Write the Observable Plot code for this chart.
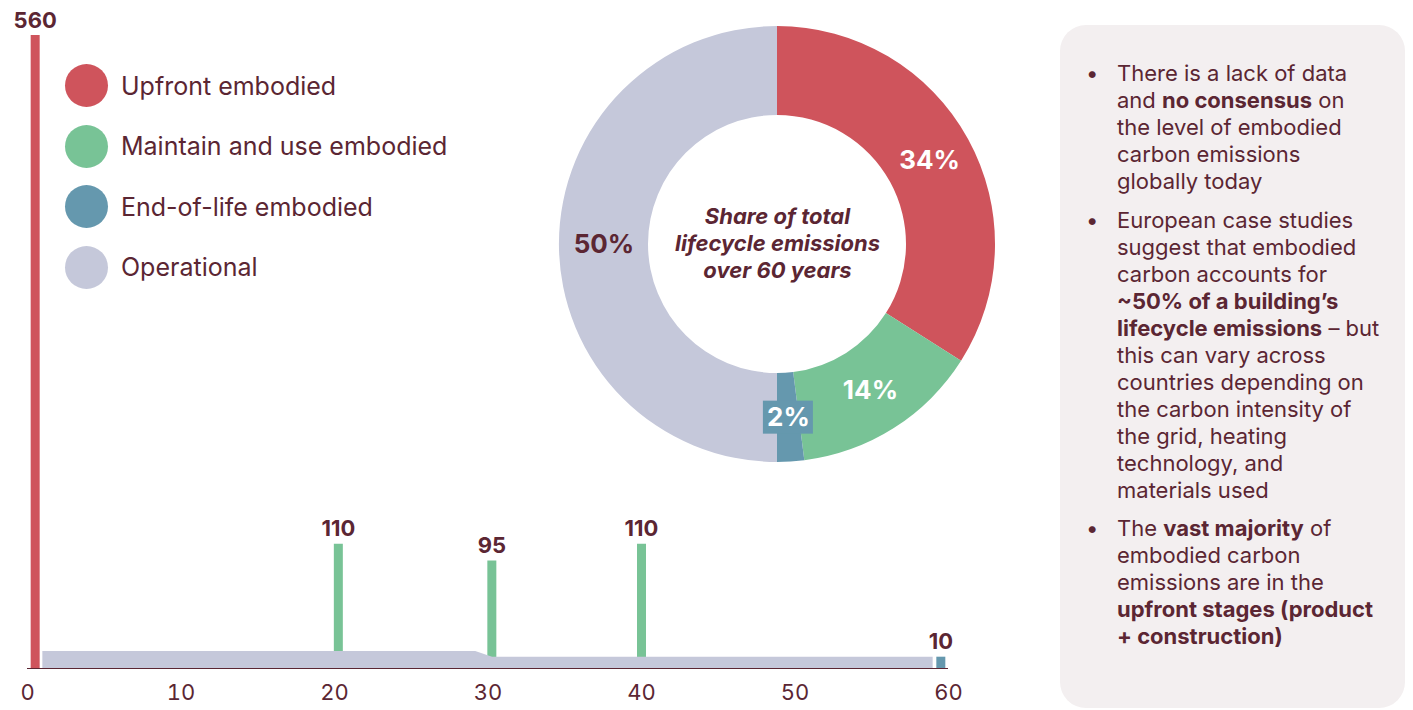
<!DOCTYPE html>
<html>
<head>
<meta charset="utf-8">
<script src="https://cdn.jsdelivr.net/npm/d3@7"></script>
<script src="https://cdn.jsdelivr.net/npm/@observablehq/plot@0.6"></script>
<style>
  html, body { margin: 0; padding: 0; background: #ffffff; }
  #root { position: relative; width: 1413px; height: 710px; overflow: hidden; font-family: Inter, "Noto Sans", sans-serif; color: #5b2633; }
  #bars { position: absolute; left: 0; top: 0; }
  #donut { position: absolute; left: 557px; top: 24px; }
  .legend { position: absolute; left: 65px; top: 64px; }
  .legend .item { display: flex; align-items: center; height: 43px; margin-bottom: 17.5px; font-size: 25px; }
  .legend .sw { width: 43px; height: 43px; border-radius: 50%; margin-right: 13px; flex: none; }
  .box { position: absolute; left: 1060px; top: 25px; width: 345px; height: 683px; background: #f3eff0; border-radius: 26px; }
  .box ul { list-style: none; margin: 0; padding: 35px 0 0 0; }
  .box li { position: relative; padding-left: 57px; font-size: 22px; line-height: 27px; margin-bottom: 11.5px; white-space: nowrap; }
  .box li::before { content: "•"; position: absolute; left: 26px; top: 0; }
  .box b { font-weight: 700; }
</style>
</head>
<body>
<div id="root">
  <div id="bars"></div>
  <div id="donut"></div>
  <div class="legend" id="legend"></div>
  <div class="box">
    <ul>
      <li>There is a lack of data<br>and <b>no consensus</b> on<br>the level of embodied<br>carbon emissions<br>globally today</li>
      <li>European case studies<br>suggest that embodied<br>carbon accounts for<br><b>~50% of a building’s<br>lifecycle emissions</b> – but<br>this can vary across<br>countries depending on<br>the carbon intensity of<br>the grid, heating<br>technology, and<br>materials used</li>
      <li>The <b>vast majority</b> of<br>embodied carbon<br>emissions are in the<br><b>upfront stages (product<br>+ construction)</b></li>
    </ul>
  </div>
</div>
<script>
// ---------- data ----------
const categories = ["Upfront embodied", "Maintain and use embodied", "End-of-life embodied", "Operational"];
const categoryColors = ["#cf545c", "#78c396", "#6598ae", "#c5c8da"];

// embodied emission spikes (year, value, category)
const spikeYears = [0.5, 20.25, 30.25, 40, 59.5];
const spikeValues = [560, 110, 95, 110, 10];
const spikeCategories = ["Upfront embodied", "Maintain and use embodied", "Maintain and use embodied", "Maintain and use embodied", "End-of-life embodied"];

// operational emissions profile (year, value)
const opYears = [1, 29.2, 30.3, 59];
const opValues = [15, 15, 10, 10];

// x axis ticks
const xTicks = [0, 10, 20, 30, 40, 50, 60];

// share of lifecycle emissions (%)
const shareValues = [34, 14, 2, 50];
const shareLabels = ["34%", "14%", "2%", "50%"];
const shareTitle = "Share of total\nlifecycle emissions\nover 60 years";

const maroon = "#5b2633";

// ---------- bar/area chart ----------
const spikes = spikeYears.map((x, i) => ({x, value: spikeValues[i], category: spikeCategories[i]}));
const operational = opYears.map((x, i) => ({x, value: opValues[i], category: "Operational"}));

const chart = Plot.plot({
  width: 1000,
  height: 710,
  marginLeft: 27,
  marginRight: 52,
  marginTop: 35,
  marginBottom: 42,
  style: {fontFamily: "Inter, 'Noto Sans', sans-serif", fontSize: "22px", color: maroon, background: "transparent"},
  x: {domain: [0, 60], label: null},
  y: {domain: [0, 560], axis: null},
  color: {domain: categories, range: categoryColors},
  marks: [
    Plot.ruleX(spikes, {x: "x", y1: 0, y2: "value", stroke: "category", strokeWidth: 9}),
    Plot.areaY(operational, {x: "x", y: "value", fill: "category", curve: "linear"}),
    Plot.ruleY([0], {stroke: maroon, strokeWidth: 1.2}),
    Plot.text(spikes, {x: "x", y: "value", text: d => String(d.value), dy: -8, lineAnchor: "bottom", fontSize: 22, fontWeight: 700, fill: maroon}),
    Plot.axisX({ticks: xTicks, tickSize: 0, tickPadding: 16, tickFormat: d => String(d), fill: maroon, fontSize: 22, label: null})
  ]
});
document.getElementById("bars").appendChild(chart);

// ---------- legend ----------
const legend = document.getElementById("legend");
categories.forEach((c, i) => {
  const item = document.createElement("div");
  item.className = "item";
  const sw = document.createElement("span");
  sw.className = "sw";
  sw.style.background = categoryColors[i];
  const label = document.createElement("span");
  label.textContent = c;
  item.appendChild(sw);
  item.appendChild(label);
  legend.appendChild(item);
});

// ---------- donut ----------
const colorOf = d3.scaleOrdinal(categories, categoryColors);
const innerRatio = 129 / 218;
const midRatio = (1 + innerRatio) / 2;
const total = d3.sum(shareValues);
let acc = 0;
const slices = shareValues.map((v, i) => {
  const a0 = acc / total * 2 * Math.PI;
  acc += v;
  const a1 = acc / total * 2 * Math.PI;
  const am = (a0 + a1) / 2;
  return {
    category: categories[i], value: v, label: shareLabels[i], a0, a1,
    lx: Math.sin(am) * midRatio, ly: Math.cos(am) * midRatio,
    boxed: v < 5
  };
});

const donutSize = 440;
const donut = Plot.plot({
  width: donutSize,
  height: donutSize,
  margin: 2,
  style: {fontFamily: "Inter, 'Noto Sans', sans-serif", color: maroon, background: "transparent"},
  x: {domain: [-1, 1], axis: null},
  y: {domain: [-1, 1], axis: null},
  marks: [
    (index, scales, values, dimensions) => {
      const {width, height, marginLeft, marginRight, marginTop, marginBottom} = dimensions;
      const cx = (marginLeft + width - marginRight) / 2;
      const cy = (marginTop + height - marginBottom) / 2;
      const R = (width - marginLeft - marginRight) / 2;
      const g = d3.create("svg:g").attr("transform", `translate(${cx},${cy})`);
      const arc = d3.arc().innerRadius(R * innerRatio).outerRadius(R);
      g.selectAll("path").data(slices).join("path")
        .attr("d", d => arc({startAngle: d.a0, endAngle: d.a1}))
        .attr("fill", d => colorOf(d.category));
      slices.filter(d => d.boxed).forEach(d => {
        const px = d.lx * R, py = -d.ly * R;
        g.append("rect").attr("x", px - 25).attr("y", py - 16.5).attr("width", 50).attr("height", 33)
          .attr("fill", colorOf(d.category));
      });
      return g.node();
    },
    Plot.text(slices, {x: "lx", y: "ly", text: "label", fontSize: 26, fontWeight: 700,
      fill: d => d.category === "Operational" ? maroon : "#ffffff"}),
    Plot.text([shareTitle], {x: 0, y: 0, text: d => d, dy: -2, fontSize: 22, fontWeight: 700, fontStyle: "italic", lineHeight: 1.23, fill: maroon})
  ]
});
document.getElementById("donut").appendChild(donut);
</script>
</body>
</html>
